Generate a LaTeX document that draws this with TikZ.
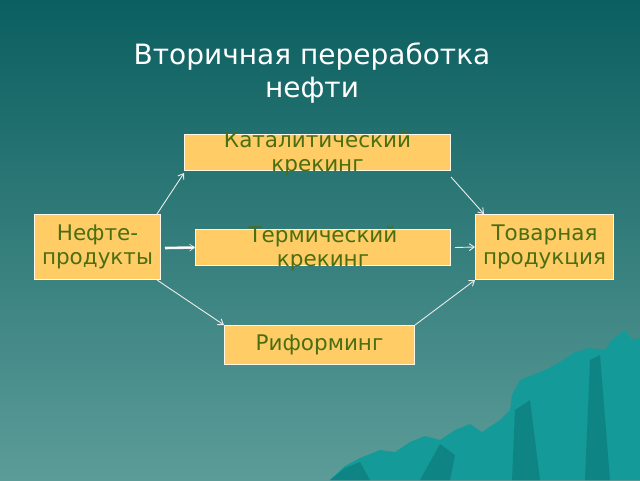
\documentclass[tikz,border=0pt]{standalone}
\usepackage{fontspec}
\setmainfont{DejaVu Sans}
\usetikzlibrary{arrows.meta}
\definecolor{bgtop}{HTML}{0B5F60}
\definecolor{bgbot}{HTML}{5C9C98}
\definecolor{boxc}{HTML}{FFCC66}
\definecolor{txtc}{HTML}{4A6E12}
\definecolor{mnt}{HTML}{149A98}
\definecolor{mntd}{HTML}{0E8584}
\begin{document}
\begin{tikzpicture}[x=1pt,y=-1pt,
  box/.style={draw=white!85!boxc,line width=1pt,fill=boxc,anchor=north west,inner sep=0pt},
  lbl/.style={text=txtc,font=\fontsize{21.5}{24}\selectfont,align=center},
  arr/.style={draw=white!85!gray,line width=0.9pt,-{Straight Barb[length=5pt,width=7pt]}}]
\useasboundingbox (0,0) rectangle (640,480);
\shade[top color=bgtop,bottom color=bgbot] (0,0) rectangle (640,480);
\fill[mnt] (330,480) -- (345,466) -- (360,458) -- (380,450) -- (395,452) -- (410,442) -- (425,436) -- (440,440) -- (455,430) -- (470,424) -- (482,432) -- (500,420) -- (510,410) -- (512,395) -- (520,380) -- (545,370) -- (560,362) -- (575,352) -- (590,348) -- (605,350) -- (612,340) -- (625,330) -- (632,340) -- (640,338) -- (640,480) -- cycle;
\fill[mntd] (330,480) -- (345,468) -- (360,462) -- (370,480) -- cycle;
\fill[mntd] (420,480) -- (440,444) -- (455,455) -- (450,480) -- cycle;
\fill[mntd] (512,480) -- (515,410) -- (530,400) -- (540,480) -- cycle;
\fill[mntd] (585,480) -- (590,360) -- (600,355) -- (610,480) -- cycle;
\node[text=white,font=\fontsize{28}{33}\selectfont,align=center] (title) at (312,73) {Вторичная переработка\\нефти};
\node[box,minimum width=266pt,minimum height=36pt] (kat) at (184,134) {};
\node[box,minimum width=255pt,minimum height=36pt] (ter) at (195,229) {};
\node[box,minimum width=190pt,minimum height=39pt] (rif) at (224,325) {};
\node[box,minimum width=126pt,minimum height=65pt] (nef) at (34,214) {};
\node[box,minimum width=138pt,minimum height=65pt] (tov) at (475,214) {};
\node[lbl] (katl) at ([yshift=-1pt]kat.center) {Каталитический\\крекинг};
\node[lbl] (terl) at ([yshift=-1pt]ter.center) {Термический\\крекинг};
\node[lbl] (rifl) at (rif.center) {Риформинг};
\node[lbl] (nefl) at (nef.center) {Нефте-\\продукты};
\node[lbl] (tovl) at (tov.center) {Товарная\\продукция};
\draw[arr] (nef.north east) ++(-4,0) -- ([yshift=-2pt]kat.south west);
\draw[arr,double,double distance=1.4pt,line width=0.6pt] ([xshift=4pt,yshift=-1pt]nef.east) -- (ter.west);
\draw[arr] (nef.south east) ++(-4,0) -- (rif.north west);
\draw[arr] ([yshift=-6pt]kat.south east) -- ([xshift=9pt]tov.north west);
\draw[arr] ([xshift=4pt]ter.east) -- (tov.west);
\draw[arr] (rif.north east) -- (tov.south west);
\end{tikzpicture}
\end{document}
